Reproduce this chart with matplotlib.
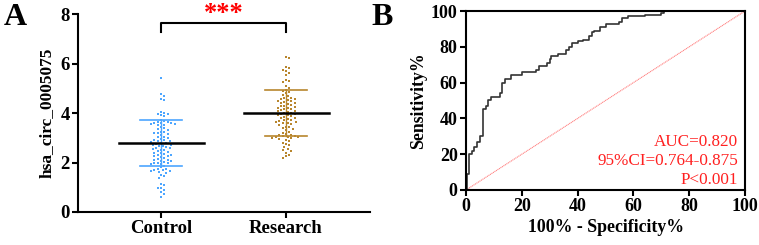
import matplotlib
matplotlib.use("Agg")
import matplotlib.pyplot as plt
import numpy as np

plt.rcParams['font.family'] = ['Liberation Serif', 'DejaVu Serif']
plt.rcParams['font.weight'] = 'bold'

# ---- panel A data ----
groups = ["Control", "Research"]
control = [5.42, 4.76, 4.68, 4.58, 4.52, 4.06, 4.02, 3.98, 3.95, 3.92, 3.88,
           3.72, 3.68, 3.65, 3.63, 3.61, 3.60, 3.58, 3.56, 3.55, 3.52, 3.50,
           3.42, 3.38, 3.35, 3.30, 3.25, 3.22, 3.20, 3.18, 3.15, 3.10,
           3.05, 3.02, 2.98, 2.95, 2.92, 2.90, 2.88, 2.85, 2.82, 2.80, 2.78, 2.75,
           2.72, 2.70, 2.68, 2.65, 2.62, 2.60, 2.58, 2.55, 2.52, 2.50,
           2.45, 2.42, 2.40, 2.38, 2.35, 2.32, 2.30, 2.28, 2.25, 2.22,
           2.18, 2.15, 2.12, 2.10, 2.08, 2.05, 2.02, 2.00, 1.98, 1.96, 1.94, 1.92,
           1.85, 1.80, 1.75, 1.72, 1.70, 1.68, 1.66, 1.65, 1.62, 1.58,
           1.50, 1.45, 1.38, 1.12, 1.08, 0.98, 0.95, 0.88, 0.80, 0.72, 0.62]
research = [6.28, 6.22, 5.85, 5.80, 5.75, 5.70, 5.60, 5.55, 5.35, 5.30, 5.25,
            5.10, 5.02, 4.95, 4.90, 4.85, 4.80, 4.72, 4.68, 4.62, 4.60, 4.58,
            4.55, 4.52, 4.50, 4.48, 4.45, 4.42, 4.40, 4.35, 4.32, 4.30, 4.28,
            4.25, 4.22, 4.20, 4.18, 4.15, 4.12, 4.10, 4.08, 4.05, 4.02, 4.00,
            3.98, 3.95, 3.92, 3.90, 3.88, 3.85, 3.80, 3.78, 3.75, 3.72, 3.70,
            3.68, 3.65, 3.62, 3.60, 3.58, 3.55, 3.50, 3.45, 3.42, 3.40, 3.35,
            3.30, 3.25, 3.20, 3.15, 3.12, 3.10, 3.08, 3.06, 3.05, 3.03, 3.02,
            3.00, 2.98, 2.95, 2.90, 2.85, 2.80, 2.75, 2.70, 2.62, 2.55, 2.50,
            2.45, 2.40, 2.30, 2.25, 2.20]
means = [2.78, 4.01]
sds = [0.93, 0.93]
colors = ["#4da6ff", "#b8862e"]

# ---- panel B data ----
roc_fpr = [0, 0.5, 0.5, 1, 1, 2, 2, 3, 3, 4, 4, 5, 5, 6, 6, 7, 7, 8, 8, 9, 9,
           12, 12, 13, 13, 14, 14, 16, 16, 20, 20, 25, 25, 26, 26, 29, 29, 30,
           30, 30.5, 30.5, 33, 33, 36, 36, 37, 37, 38, 38, 40, 40, 42, 42, 44,
           44, 45, 45, 46, 46, 48, 48, 50, 50, 55, 55, 56, 56, 58, 58, 64, 64,
           68, 68, 70, 70, 71, 71, 100]
roc_tpr = [0, 0, 9, 9, 20, 20, 22, 22, 24, 24, 27, 27, 30, 30, 45, 45, 47, 47,
           50, 50, 52, 52, 54, 54, 60, 60, 62, 62, 64, 64, 66, 66, 67, 67, 69,
           69, 71, 71, 73, 73, 75, 75, 76, 76, 78, 78, 80, 80, 82, 82, 83, 83,
           84, 84, 86, 86, 88, 88, 89, 89, 91, 91, 93, 93, 94, 94, 96, 96, 97,
           97, 97.5, 97.5, 98, 98, 99, 99, 100, 100]
roc_text = ["AUC=0.820", "95%CI=0.764-0.875", "P<0.001"]


def swarm(vals, xscale, yscale, d):
    # simple beeswarm: place each point at smallest free offset
    placed = []
    out = []
    for v in vals:
        y = v * yscale
        k = 0
        while True:
            cands = [0.0] if k == 0 else [k * d * 0.5, -k * d * 0.5]
            ok = None
            for c in cands:
                if all((c - px) ** 2 + (y - py) ** 2 >= d * d for px, py in placed):
                    ok = c
                    break
            if ok is not None:
                placed.append((ok, y))
                out.append(ok / xscale)
                break
            k += 1
    return np.array(out)


fig = plt.figure(figsize=(7.59, 2.45), dpi=100)

# ---- panel A ----
ax = fig.add_axes([0.1028, 0.1347, 0.3847, 0.808])
for i, vals in enumerate([control, research]):
    offs = swarm(vals, 125, 24.75, 3.4)
    ax.scatter(i + offs, vals, s=4.5, color=colors[i], marker='s', lw=0, zorder=2)
    ax.plot([i - 0.17, i + 0.17], [means[i] + sds[i]] * 2, color=colors[i], lw=1.2, zorder=3)
    ax.plot([i - 0.17, i + 0.17], [means[i] - sds[i]] * 2, color=colors[i], lw=1.2, zorder=3)
    ax.plot([i, i], [means[i] - sds[i], means[i] + sds[i]], color=colors[i], lw=1.0, zorder=3)
    ax.plot([i - 0.34, i + 0.34], [means[i]] * 2, color="black", lw=1.8, zorder=4)

ax.plot([0, 0, 1, 1], [7.27, 7.64, 7.64, 7.27], color="black", lw=1.5, clip_on=False)
ax.text(0.5, 7.76, "***", color="red", ha="center", va="baseline", fontsize=19,
        fontweight="bold", clip_on=False)

ax.set_xlim(-0.664, 1.672)
ax.set_ylim(0, 8)
ax.set_xticks([0, 1])
ax.set_xticklabels(groups)
ax.set_yticks([0, 2, 4, 6, 8])
ax.set_ylabel("hsa_circ_0005075", fontsize=12.5, fontweight="bold", labelpad=4)
for s in ["top", "right"]:
    ax.spines[s].set_visible(False)
for s in ["left", "bottom"]:
    ax.spines[s].set_linewidth(1.5)
ax.tick_params(width=1.5, length=4, labelsize=13.5, pad=2)
fig.text(0.005, 0.898, "A", fontsize=23, fontweight="bold", va="baseline")

# ---- panel B ----
bx = fig.add_axes([0.614, 0.2245, 0.3676, 0.7306])
bx.plot([0, 100], [0, 100], color="#ff8080", lw=0.8, ls=(0, (1, 0.6)))
bx.plot(roc_fpr, roc_tpr, color="#333333", lw=1.2)
for j, t in enumerate(roc_text):
    bx.text(97.6, 27 - j * 10.7, t, color="#ff2020", ha="right", va="center",
            fontsize=12.3, fontweight="normal")
bx.set_xlim(0, 100)
bx.set_ylim(0, 100)
bx.set_xticks(range(0, 101, 20))
bx.set_yticks(range(0, 101, 20))
bx.set_xlabel("100% - Specificity%", fontsize=12.8, fontweight="bold", labelpad=3)
bx.set_ylabel("Sensitivity%", fontsize=12.8, fontweight="bold", labelpad=3)
for s in bx.spines.values():
    s.set_linewidth(1.5)
bx.tick_params(width=1.5, length=4, labelsize=13, pad=2)
fig.text(0.490, 0.898, "B", fontsize=23, fontweight="bold", va="baseline")

fig.savefig("out.png", dpi=100)
